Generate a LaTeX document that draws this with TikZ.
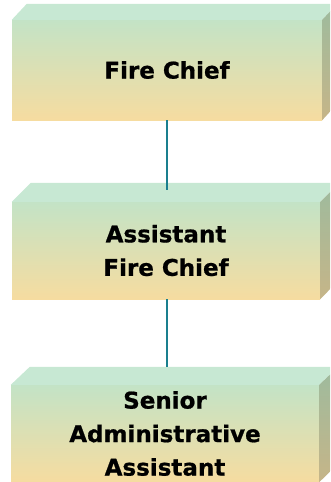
\documentclass[tikz,border=0pt]{standalone}
\usepackage{fontspec}
\setmainfont{DejaVu Sans}[BoldFeatures={FakeBold=0.8}]
\definecolor{frontTop}{HTML}{C3E3C6}
\definecolor{frontBot}{HTML}{F6DCA0}
\definecolor{topC}{HTML}{C7E8D3}
\definecolor{sideTop}{HTML}{9DBB9E}
\definecolor{sideBot}{HTML}{C6B588}
\definecolor{linkC}{HTML}{1A7F8E}
\begin{document}
\begin{tikzpicture}[x=1pt,y=-1pt,
  front/.style={inner sep=0pt, top color=frontTop, bottom color=frontBot, align=center,
    font=\bfseries\fontsize{23}{33.5}\selectfont},
  topface/.style={fill=topC},
  sideface/.style={top color=sideTop, bottom color=sideBot},
  link/.style={draw=linkC, line width=2.4pt}]
\useasboundingbox (0,0) rectangle (330,482);
\clip (0,0) rectangle (330,482);
% box 1
\node[front, minimum width=310pt, minimum height=100pt] (b1) at (167,70) {Fire Chief};
\fill[topface] (b1.north west) -- ++(15,-16) -- ++(310,0) -- (b1.north east) -- cycle;
\path[sideface] (b1.north east) -- ++(15,-16) -- ++(0,100) -- (b1.south east) -- cycle;
% box 2
\node[front, minimum width=308pt, minimum height=97pt] (b2) at (166,250.5) {Assistant\\Fire Chief};
\fill[topface] (b2.north west) -- ++(19,-19) -- ++(308,0) -- (b2.north east) -- cycle;
\path[sideface] (b2.north east) -- ++(19,-19) -- ++(0,97) -- (b2.south east) -- cycle;
% box 3
\node[front, minimum width=308pt, minimum height=97pt] (b3) at (165,433.5) {Senior\\Administrative\\Assistant};
\fill[topface] (b3.north west) -- ++(19,-18) -- ++(308,0) -- (b3.north east) -- cycle;
\path[sideface] (b3.north east) -- ++(19,-18) -- ++(0,97) -- (b3.south east) -- cycle;
% connectors
\draw[link, shorten >=12pt] (b1.south) -- (b1.south |- b2.north);
\draw[link, shorten >=18pt] (b2.south -| b1.south) -- (b1.south |- b3.north);
\end{tikzpicture}
\end{document}
